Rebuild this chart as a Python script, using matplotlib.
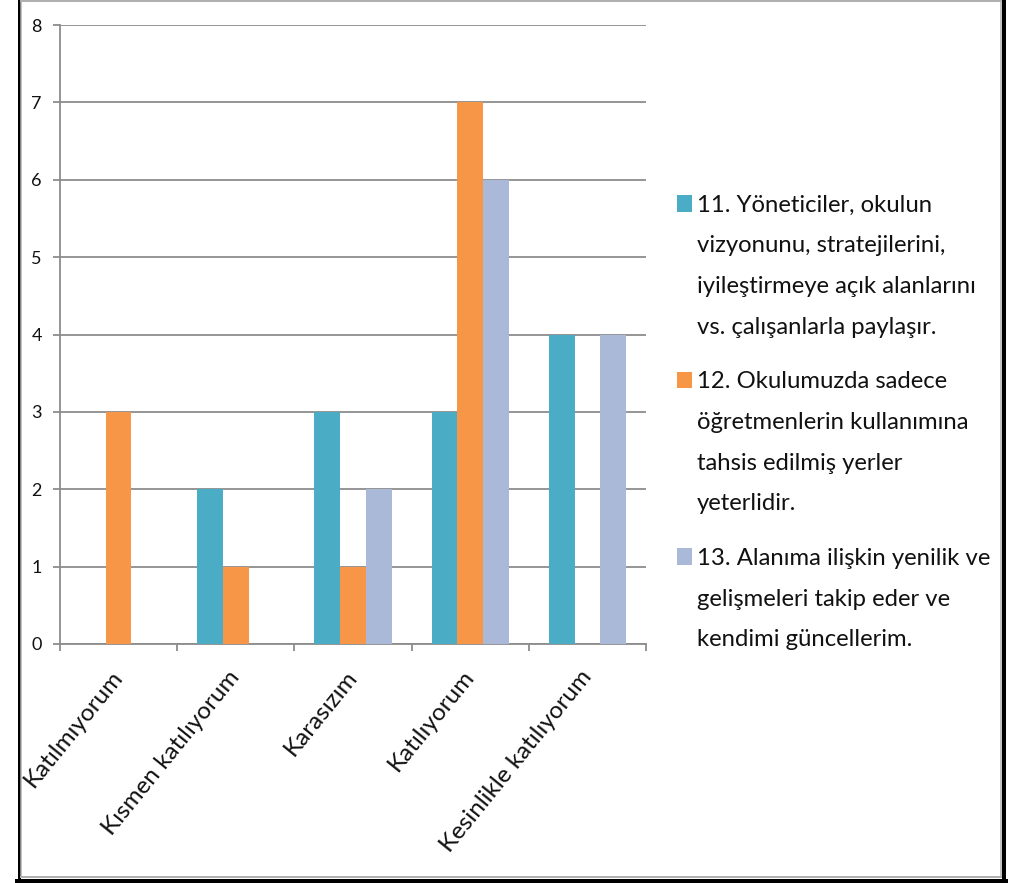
import numpy as np
import matplotlib.pyplot as plt
from matplotlib.patches import Rectangle
from matplotlib.lines import Line2D
from matplotlib.ticker import FixedLocator

plt.rcParams['font.family'] = ['Lato', 'DejaVu Sans']

categories = ['Katılmıyorum', 'Kısmen katılıyorum', 'Karasızım', 'Katılıyorum',
              'Kesinlikle katılıyorum']
q11 = [0, 2, 3, 3, 4]
q12 = [3, 1, 1, 7, 0]
q13 = [0, 0, 2, 6, 4]
series = [q11, q12, q13]
series_labels = [
    '11. Yöneticiler, okulun\nvizyonunu, stratejilerini,\niyileştirmeye açık alanlarını\nvs. çalışanlarla paylaşır.',
    '12. Okulumuzda sadece\nöğretmenlerin kullanımına\ntahsis edilmiş yerler\nyeterlidir.',
    '13. Alanıma ilişkin yenilik ve\ngelişmeleri takip eder ve\nkendimi güncellerim.',
]
colors = ['#4BACC6', '#F79646', '#AAB9D7']
yticks = [0, 1, 2, 3, 4, 5, 6, 7, 8]

W, H = 1013, 883
fig = plt.figure(figsize=(W / 100, H / 100), dpi=100)


def fx(px):
    return px / W


def fy(py):
    return 1 - py / H


ax = fig.add_axes([fx(60), fy(644), fx(646) - fx(60), fy(25) - fy(644)])

x = np.arange(len(categories))
bw = 0.22
for i, (vals, c) in enumerate(zip(series, colors)):
    ax.bar(x + (i - 1) * bw, vals, width=bw, color=c, linewidth=0, zorder=3)

ax.set_xlim(-0.5, len(categories) - 0.5)
ax.set_ylim(0, 8)
ax.set_yticks(yticks)
ax.yaxis.grid(True, color='#8c8c8c', linewidth=1.3)
ax.set_axisbelow(True)

gray = '#8c8c8c'
for s in ['top', 'right']:
    ax.spines[s].set_visible(False)
for s in ['left', 'bottom']:
    ax.spines[s].set_color(gray)
    ax.spines[s].set_linewidth(1.3)

ax.tick_params(axis='y', direction='out', length=5, width=1.3, color=gray,
               labelsize=13, pad=8, labelcolor='#111111')
ax.set_xticks(x)
ax.set_xticklabels(categories, rotation=51, ha='right', va='center',
                   rotation_mode='anchor', fontsize=17.5, color='#111111')
ax.tick_params(axis='x', which='major', length=0, pad=21)
ax.xaxis.set_minor_locator(FixedLocator(np.arange(-0.5, len(categories), 1.0)))
ax.tick_params(axis='x', which='minor', direction='out', length=5, width=1.3, color=gray)

# legend drawn by hand to keep the first-line alignment of wrapped labels
baseline = 212
for label, c in zip(series_labels, colors):
    fig.add_artist(Rectangle((fx(677), fy(baseline)), fx(692) - fx(677), fy(195) - fy(212),
                             transform=fig.transFigure, facecolor=c, edgecolor='none'))
    for line in label.split('\n'):
        fig.text(fx(697), fy(baseline), line, fontsize=17.2, color='#111111', va='baseline')
        baseline += 40.5
    baseline += 14.5

# frame around the picture
frame = [
    ((18.5, 18.5), (0, 883), 'black', 3),
    ((17, 1006), (880.5, 880.5), 'black', 4),
    ((1003.5, 1003.5), (0, 883), 'black', 4),
    ((21, 21), (0, 877), '#b0b0b0', 1.5),
    ((21, 1001), (876.5, 876.5), '#b0b0b0', 2),
    ((1000.5, 1000.5), (0, 877), '#b0b0b0', 1.5),
    ((21, 1001), (0.5, 0.5), '#b0b0b0', 2),
]
for xs, ys, c, lw in frame:
    fig.add_artist(Line2D([fx(v) for v in xs], [fy(v) for v in ys],
                          transform=fig.transFigure, color=c, linewidth=lw * 0.72))

fig.savefig('out.png', dpi=100)
